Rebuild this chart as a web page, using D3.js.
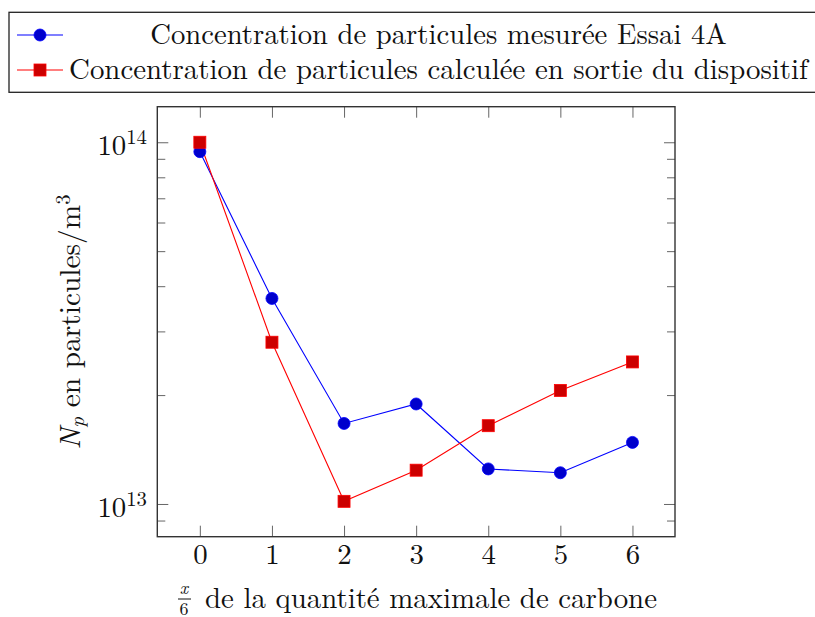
<!DOCTYPE html>
<html>
<head>
<meta charset="utf-8">
<script src="https://cdn.jsdelivr.net/npm/d3@7"></script>
<style>
    body { margin: 0; background: #fff; }
</style>
</head>
<body>
<div id="chart"></div>
<script>
// x = fraction (sixths) of the max amount of carbon
const steps = [0, 1, 2, 3, 4, 5, 6];
const measured = [9.42e13, 3.70e13, 1.67e13, 1.89e13, 1.25e13, 1.22e13, 1.48e13];
const computed = [1.00e14, 2.80e13, 1.017e13, 1.24e13, 1.646e13, 2.06e13, 2.47e13];
const seriesNames = [
    'Concentration de particules mesurée Essai 4A',
    'Concentration de particules calculée en sortie du dispositif'
];
const xTicks = [0, 1, 2, 3, 4, 5, 6];
const yMajor = [1e13, 1e14];
const yMajorExp = ['13', '14'];
const yMinor = [9e12, 2e13, 3e13, 4e13, 5e13, 6e13, 7e13, 8e13, 9e13];

const FONT = '"Latin Modern Roman", "Liberation Serif", serif';

const W = 815, H = 617;
const plot = {left: 157.3, right: 675, top: 106.7, bottom: 536.7};

const svg = d3.select('#chart').append('svg')
    .attr('width', W)
    .attr('height', H)
    .style('display', 'block');

const x = d3.scaleLinear()
    .domain([-0.59, 6.59])
    .range([plot.left, plot.right]);
const y = d3.scaleLog()
    .domain([8.12e12, 1.254e14])
    .range([plot.bottom, plot.top]);

const tickColor = '#666';

function txt(sel, size) {
    return sel.style('font-family', FONT).style('font-size', size + 'px').attr('fill', '#111');
}

// scale the font so the text spans the width seen in the reference
function fitText(sel, target) {
    const node = sel.node();
    const w = node.getComputedTextLength();
    const size = parseFloat(node.style.fontSize);
    const fitted = w > 0 ? size * target / w : size;
    sel.style('font-size', fitted + 'px');
    return fitted;
}

const series = [
    {name: seriesNames[0], values: measured, line: '#0000ff', fill: '#0000cc', mark: 'circle'},
    {name: seriesNames[1], values: computed, line: '#ff0000', fill: '#cc0000', mark: 'square'}
];

function drawMark(g, s) {
    if (s.mark === 'circle') {
        g.append('circle').attr('r', 6);
    } else {
        g.append('rect').attr('x', -6).attr('y', -6).attr('width', 12).attr('height', 12);
    }
    g.selectAll('circle, rect')
        .attr('fill', s.fill)
        .attr('stroke', s.line)
        .attr('stroke-width', 0.8);
}

// legend first, its text size is reused for the tick labels
const legend = svg.append('g');
legend.append('rect')
    .attr('x', 9).attr('y', 12.3)
    .attr('width', 820).attr('height', 80)
    .attr('fill', '#fff')
    .attr('stroke', '#222')
    .attr('stroke-width', 1.3);

const rowY = [35, 70];
const textSpan = [{x: 438.5, len: 577}, {x: 438.5, len: 739}];
let baseSize = 25;
series.forEach((s, i) => {
    const row = legend.append('g').attr('transform', `translate(0,${rowY[i]})`);
    row.append('line')
        .attr('x1', 17).attr('x2', 63)
        .attr('stroke', s.line).attr('stroke-width', 1.1);
    drawMark(row.append('g').attr('transform', 'translate(40,0)'), s);
    const t = txt(row.append('text'), 25)
        .attr('x', textSpan[i].x)
        .attr('y', 8.5)
        .attr('text-anchor', 'middle')
        .text(s.name);
    baseSize = fitText(t, textSpan[i].len);
});

// ticks (inside, mirrored on all sides)
function styleAxis(g) {
    g.select('.domain').remove();
    g.selectAll('.tick line').attr('stroke', tickColor).attr('stroke-width', 1);
}

svg.append('g')
    .attr('transform', `translate(0,${plot.bottom})`)
    .call(d3.axisBottom(x).tickValues(xTicks).tickSize(-11).tickPadding(7).tickFormat(d3.format('d')))
    .call(styleAxis)
    .call(g => txt(g.selectAll('text'), baseSize));

svg.append('g')
    .attr('transform', `translate(0,${plot.top})`)
    .call(d3.axisTop(x).tickValues(xTicks).tickSize(-11).tickFormat(''))
    .call(styleAxis);

svg.append('g')
    .attr('transform', `translate(${plot.left},0)`)
    .call(d3.axisLeft(y).tickValues(yMajor).tickSize(-11).tickFormat(''))
    .call(styleAxis);
svg.append('g')
    .attr('transform', `translate(${plot.left},0)`)
    .call(d3.axisLeft(y).tickValues(yMinor).tickSize(-8).tickFormat(''))
    .call(styleAxis);
svg.append('g')
    .attr('transform', `translate(${plot.right},0)`)
    .call(d3.axisRight(y).tickValues(yMajor).tickSize(-11).tickFormat(''))
    .call(styleAxis);
svg.append('g')
    .attr('transform', `translate(${plot.right},0)`)
    .call(d3.axisRight(y).tickValues(yMinor).tickSize(-8).tickFormat(''))
    .call(styleAxis);

// y major labels 10^n
const yLab = svg.append('g').selectAll('text')
    .data(yMajor)
    .enter().append('text')
    .attr('x', 147)
    .attr('y', d => y(d) + 13)
    .attr('text-anchor', 'end');
txt(yLab, baseSize);
yLab.append('tspan').text('10');
yLab.append('tspan')
    .attr('dy', -11)
    .style('font-size', '0.72em')
    .text((d, i) => yMajorExp[i]);

// frame
svg.append('rect')
    .attr('x', plot.left)
    .attr('y', plot.top)
    .attr('width', plot.right - plot.left)
    .attr('height', plot.bottom - plot.top)
    .attr('fill', 'none')
    .attr('stroke', '#333')
    .attr('stroke-width', 1.4);

// series
const line = d3.line()
    .x((d, i) => x(steps[i]))
    .y(d => y(d));

series.forEach(s => {
    svg.append('path')
        .datum(s.values)
        .attr('d', line)
        .attr('fill', 'none')
        .attr('stroke', s.line)
        .attr('stroke-width', 1.1);
});
series.forEach(s => {
    svg.append('g').selectAll('g')
        .data(s.values)
        .enter().append('g')
        .attr('transform', (d, i) => `translate(${x(steps[i])},${y(d)})`)
        .each(function () { drawMark(d3.select(this), s); });
});

// axis labels
const xl = svg.append('g');
txt(xl.append('text'), 18)
    .attr('x', 184).attr('y', 594)
    .attr('text-anchor', 'middle')
    .style('font-style', 'italic')
    .text('x');
xl.append('line')
    .attr('x1', 178).attr('x2', 191)
    .attr('y1', 599).attr('y2', 599)
    .attr('stroke', '#111').attr('stroke-width', 1);
txt(xl.append('text'), 18)
    .attr('x', 184).attr('y', 615)
    .attr('text-anchor', 'middle')
    .text('6');
const xTitle = txt(xl.append('text'), baseSize)
    .attr('x', 205).attr('y', 608)
    .text('de la quantité maximale de carbone');
fitText(xTitle, 452);

const yl = txt(svg.append('text'), baseSize)
    .attr('transform', 'translate(80,322) rotate(-90)')
    .attr('text-anchor', 'middle');
yl.append('tspan').style('font-style', 'italic').text('N');
yl.append('tspan').attr('dy', 4).style('font-style', 'italic').style('font-size', '0.7em').text('p');
yl.append('tspan').attr('dy', -4).text(' en particules/m');
yl.append('tspan').attr('dy', -10).style('font-size', '0.7em').text('3');
fitText(yl, 255);
</script>
</body>
</html>
